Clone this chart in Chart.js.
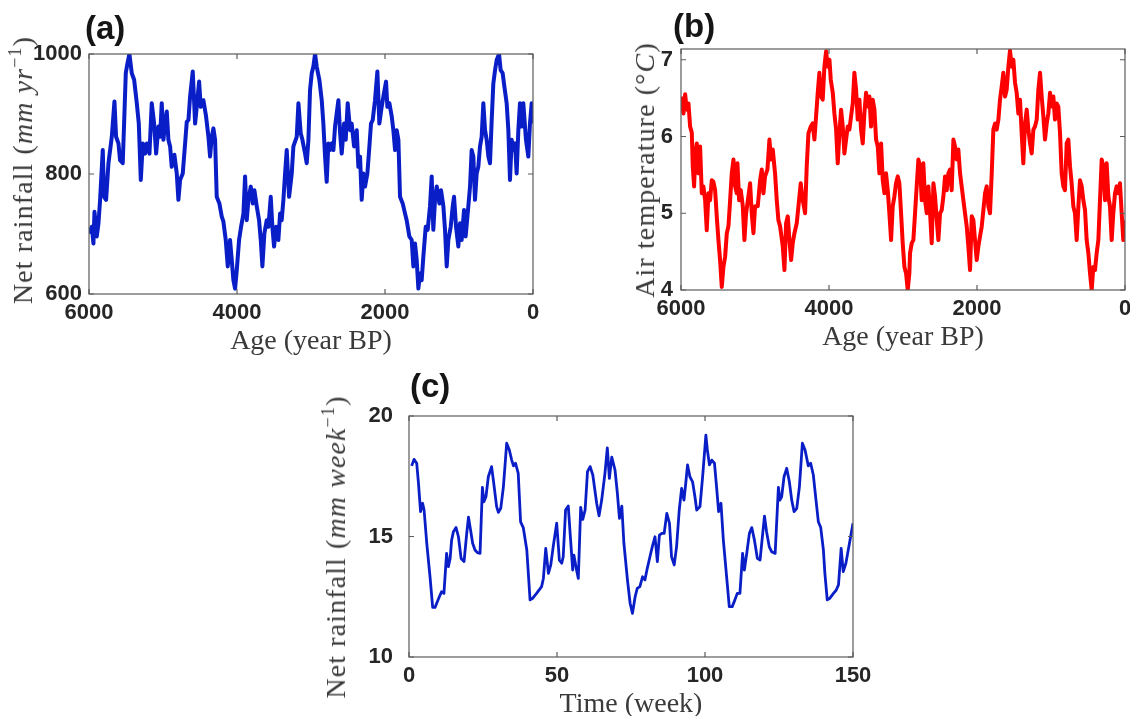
<!DOCTYPE html>
<html lang="en">
  <head>
    <meta charset="UTF-8" />
    <title>Rainfall and temperature series</title>
    <script src="https://cdn.jsdelivr.net/npm/chart.js"></script>
    <style>
      body { margin: 0; width: 1130px; height: 716px; overflow: hidden; background: #fff; position: relative; }
      canvas { position: absolute; left: 0; top: 0; }
      .plabel { position: absolute; font: bold 33px "Liberation Sans", Arial, sans-serif; color: #151515; line-height: 1; }
      .ytitle {
        position: absolute; white-space: nowrap; line-height: 1; letter-spacing: 1.1px;
        transform: translate(-50%, -50%) rotate(-90deg);
        font-family: "Liberation Serif", serif; font-size: 28px; color: #3a3a3a;
      }
      .ytitle sup { font-size: 0.65em; line-height: 0; vertical-align: 0.6em; }
    </style>
  </head>
  <body>
    <canvas id="chartA" width="1200" height="716"></canvas>
    <canvas id="chartB" width="1200" height="716"></canvas>
    <canvas id="chartC" width="1200" height="716"></canvas>

    <div class="plabel" style="left: 85px; top: 11px">(a)</div>
    <div class="plabel" style="left: 673px; top: 9px">(b)</div>
    <div class="plabel" style="left: 410px; top: 369px">(c)</div>

    <div class="ytitle" style="left: 23px; top: 170px">Net rainfall (<i>mm yr</i><sup>−1</sup>)</div>
    <div class="ytitle" style="left: 645px; top: 170px">Air temperature (°<i>C</i>)</div>
    <div class="ytitle" style="left: 336px; top: 547px">Net rainfall (<i>mm week</i><sup>−1</sup>)</div>

    <script>
      // (a) net rainfall, mm/yr, against age in years BP
      const ageA = [
        6000, 5962, 5940, 5926, 5895, 5872, 5850, 5814, 5796, 5769, 5737, 5692, 5656, 5634, 5602, 5580,
        5544, 5521, 5503, 5481, 5454, 5422, 5390, 5354, 5327, 5300, 5273, 5242, 5219, 5183, 5152, 5120,
        5093, 5062, 5039, 5017, 4994, 4972, 4949, 4927, 4904, 4882, 4846, 4814, 4792, 4769, 4733, 4701,
        4679, 4656, 4634, 4598, 4566, 4544, 4512, 4490, 4454, 4418, 4386, 4364, 4341, 4319, 4296, 4274,
        4238, 4206, 4184, 4152, 4125, 4094, 4071, 4049, 4026, 4003, 3972, 3945, 3913, 3891, 3868, 3846,
        3814, 3787, 3765, 3733, 3702, 3679, 3657, 3630, 3598, 3576, 3544, 3522, 3499, 3472, 3441, 3418,
        3396, 3373, 3350, 3328, 3296, 3260, 3238, 3193, 3170, 3139, 3116, 3080, 3058, 3035, 3013, 2990,
        2968, 2945, 2923, 2887, 2855, 2833, 2810, 2788, 2765, 2743, 2720, 2697, 2675, 2630, 2607, 2585,
        2553, 2531, 2504, 2472, 2450, 2418, 2382, 2360, 2337, 2315, 2292, 2270, 2238, 2211, 2189, 2166,
        2135, 2103, 2076, 2045, 2022, 1986, 1968, 1941, 1909, 1887, 1864, 1842, 1819, 1797, 1761, 1729,
        1707, 1671, 1639, 1617, 1594, 1572, 1549, 1527, 1504, 1482, 1450, 1423, 1392, 1369, 1347, 1324,
        1301, 1265, 1243, 1211, 1189, 1166, 1144, 1112, 1085, 1067, 1040, 1009, 986, 964, 932, 910,
        874, 851, 829, 806, 784, 761, 739, 716, 694, 671, 648, 626, 603, 581, 558, 536,
        513, 491, 459, 437, 410, 387, 356, 333, 311, 288, 266, 243, 221, 198, 176, 153,
        131, 95, 63, 41, 18, 0
      ];
      const rainA = [
        701, 712, 684, 737, 696, 718, 757, 840, 762, 757, 818, 862, 921, 862, 851, 823,
        818, 901, 968, 984, 1000, 968, 957, 918, 884, 790, 851, 834, 851, 834, 918, 884,
        834, 879, 862, 918, 857, 884, 904, 857, 846, 812, 832, 801, 757, 790, 801, 851,
        887, 890, 929, 971, 884, 912, 954, 912, 923, 896, 862, 829, 862, 876, 857, 762,
        751, 729, 721, 690, 646, 690, 657, 623, 609, 640, 690, 712, 734, 796, 723, 757,
        779, 751, 773, 746, 723, 690, 646, 701, 723, 712, 762, 712, 679, 712, 690, 734,
        723, 757, 801, 840, 762, 801, 846, 862, 918, 868, 857, 834, 818, 857, 940, 968,
        979, 1000, 979, 957, 923, 884, 829, 787, 851, 840, 851, 840, 879, 923, 868, 834,
        884, 857, 918, 873, 884, 846, 873, 812, 829, 757, 801, 779, 801, 846, 884, 890,
        923, 971, 884, 912, 929, 954, 912, 918, 896, 873, 840, 873, 857, 762, 751, 734,
        723, 696, 690, 646, 684, 657, 609, 634, 623, 662, 712, 707, 746, 796, 707, 757,
        779, 751, 773, 746, 707, 646, 690, 712, 746, 762, 712, 679, 718, 690, 740, 696,
        746, 779, 840, 829, 757, 801, 812, 846, 862, 918, 873, 857, 829, 818, 890, 951,
        973, 990, 1000, 973, 968, 946, 918, 873, 790, 857, 840, 851, 801, 873, 918, 879,
        918, 857, 829, 884, 918, 884
      ];

      // (b) air temperature, °C, against age in years BP
      const ageB = [
        6000, 5967, 5944, 5922, 5899, 5877, 5854, 5841, 5823, 5805, 5787, 5764, 5742, 5719, 5697, 5674,
        5652, 5629, 5607, 5584, 5562, 5539, 5517, 5494, 5472, 5449, 5427, 5404, 5381, 5359, 5336, 5314,
        5291, 5269, 5246, 5237, 5215, 5192, 5165, 5143, 5120, 5089, 5066, 5044, 5021, 4999, 4963, 4931,
        4909, 4886, 4864, 4832, 4805, 4783, 4760, 4729, 4706, 4684, 4661, 4625, 4602, 4580, 4557, 4535,
        4512, 4490, 4467, 4436, 4413, 4382, 4355, 4323, 4301, 4278, 4247, 4220, 4197, 4175, 4152, 4130,
        4107, 4085, 4062, 4039, 4017, 3994, 3976, 3949, 3927, 3904, 3882, 3859, 3837, 3814, 3792, 3769,
        3747, 3724, 3702, 3679, 3657, 3634, 3612, 3589, 3567, 3544, 3522, 3499, 3477, 3454, 3432, 3409,
        3386, 3364, 3341, 3319, 3296, 3274, 3251, 3229, 3206, 3184, 3161, 3139, 3116, 3094, 3071, 3049,
        3026, 3004, 2981, 2959, 2936, 2914, 2905, 2882, 2860, 2837, 2815, 2792, 2770, 2747, 2725, 2702,
        2679, 2657, 2634, 2612, 2589, 2567, 2544, 2522, 2499, 2477, 2454, 2432, 2409, 2387, 2364, 2342,
        2319, 2297, 2274, 2252, 2229, 2207, 2184, 2162, 2139, 2117, 2094, 2071, 2049, 2027, 2004, 1981,
        1959, 1936, 1914, 1891, 1869, 1846, 1824, 1801, 1779, 1756, 1734, 1711, 1689, 1666, 1644, 1621,
        1599, 1576, 1554, 1531, 1509, 1486, 1464, 1441, 1419, 1396, 1374, 1351, 1328, 1306, 1283, 1261,
        1238, 1216, 1193, 1171, 1148, 1126, 1103, 1081, 1058, 1036, 1013, 991, 968, 946, 923, 901,
        878, 856, 833, 811, 788, 766, 743, 721, 698, 676, 653, 630, 608, 585, 563, 540,
        518, 495, 473, 450, 428, 405, 383, 360, 338, 315, 293, 270, 248, 225, 203, 180,
        158, 135, 113, 90, 68, 45, 23, 0
      ];
      const tempB = [
        6.52, 6.30, 6.55, 6.35, 6.43, 6.13, 6.05, 5.61, 5.35, 5.78, 5.91, 5.52, 5.87, 5.26, 5.35, 5.17,
        4.78, 5.26, 5.17, 5.43, 5.41, 5.30, 4.96, 4.65, 4.39, 4.04, 4.30, 4.43, 4.74, 4.83, 5.17, 5.52,
        5.70, 5.35, 5.26, 5.65, 5.17, 5.30, 5.09, 4.65, 5.00, 5.22, 5.39, 5.00, 4.74, 5.09, 5.09, 5.43,
        5.57, 5.26, 5.48, 5.57, 5.96, 5.70, 5.83, 5.52, 5.17, 4.91, 4.83, 4.57, 4.26, 4.87, 4.96, 4.65,
        4.39, 4.61, 4.74, 4.87, 5.09, 5.39, 5.17, 5.00, 5.61, 6.04, 6.13, 6.17, 5.96, 6.26, 6.57, 6.83,
        6.52, 6.48, 6.91, 7.11, 6.91, 7.00, 6.74, 6.57, 6.30, 6.09, 5.65, 6.04, 6.35, 6.13, 5.78, 5.96,
        6.13, 6.09, 6.26, 6.43, 6.83, 6.61, 6.22, 6.48, 6.09, 5.91, 6.30, 6.57, 6.39, 6.52, 6.13, 6.48,
        6.35, 5.96, 5.87, 5.52, 5.91, 5.43, 5.26, 5.52, 5.30, 5.00, 4.65, 5.09, 5.22, 5.39, 5.48, 5.39,
        5.00, 4.61, 4.30, 4.22, 4.00, 4.22, 4.48, 4.61, 4.65, 5.00, 5.35, 5.70, 5.61, 5.17, 5.65, 5.17,
        5.00, 5.35, 5.00, 4.61, 5.39, 5.22, 4.91, 4.65, 5.00, 5.04, 5.22, 5.48, 5.30, 5.52, 5.57, 5.30,
        5.96, 5.87, 5.70, 5.83, 5.52, 5.35, 5.17, 5.00, 4.83, 4.57, 4.26, 4.96, 4.91, 4.65, 4.39, 4.57,
        4.70, 4.83, 5.04, 5.26, 5.35, 5.09, 5.00, 5.52, 6.09, 6.17, 6.09, 6.22, 6.48, 6.65, 6.83, 6.52,
        6.61, 6.91, 7.12, 6.91, 7.00, 6.70, 6.57, 6.30, 6.48, 6.04, 5.65, 6.17, 6.35, 6.09, 5.91, 5.78,
        6.09, 6.13, 6.22, 6.61, 6.83, 6.52, 6.26, 5.96, 6.17, 6.30, 6.57, 6.39, 6.52, 6.22, 6.43, 6.39,
        6.04, 5.52, 5.35, 5.30, 5.91, 5.96, 5.61, 5.39, 5.09, 5.00, 4.65, 5.09, 5.43, 5.35, 5.17, 5.04,
        4.65, 4.48, 4.22, 4.00, 4.30, 4.26, 4.48, 4.65, 5.17, 5.70, 5.61, 5.17, 5.65, 5.22, 5.09, 4.65,
        5.00, 5.26, 5.35, 5.26, 5.39, 5.00, 4.65, 4.91
      ];

      // (c) net rainfall, mm/week, against time in weeks
      const weekC = [
        0.9, 1.7, 2.6, 3.2, 3.9, 4.6, 5.1, 6.0, 7.1, 8.0, 8.8, 9.6, 10.5, 11.0, 11.8, 12.7,
        13.3, 13.9, 14.4, 15.0, 15.9, 16.7, 17.6, 18.6, 19.5, 20.1, 20.8, 21.5, 22.3, 23.1, 24.0, 24.8,
        25.3, 26.0, 26.8, 27.9, 28.5, 29.6, 30.2, 31.0, 31.9, 33.0, 33.9, 34.7, 35.3, 36.0, 36.9, 37.7,
        38.6, 39.8, 40.9, 41.8, 43.1, 44.8, 45.4, 46.2, 47.1, 47.9, 48.8, 49.9, 50.8, 51.6, 52.1, 52.9,
        53.8, 54.6, 55.3, 55.7, 56.6, 57.2, 58.0, 58.7, 59.5, 60.3, 61.2, 62.1, 63.4, 64.2, 65.1, 66.2,
        67.0, 67.7, 68.5, 69.6, 70.4, 71.1, 71.9, 72.6, 73.8, 74.7, 75.5, 76.4, 77.1, 78.0, 78.9, 79.7,
        80.5, 81.4, 82.2, 83.1, 83.9, 84.6, 85.4, 86.2, 87.1, 88.0, 88.7, 89.6, 90.4, 91.3, 92.1, 92.9,
        93.5, 94.1, 94.9, 95.8, 96.6, 97.2, 98.3, 99.2, 100.3, 100.8, 101.5, 102.3, 103.2, 103.9, 104.6, 105.4,
        106.2, 107.3, 108.2, 109.2, 110.1, 110.9, 111.8, 112.7, 113.3, 114.1, 115.0, 115.8, 116.7, 117.7, 118.6, 119.5,
        120.1, 120.8, 121.7, 122.5, 123.7, 124.8, 125.3, 125.9, 126.7, 127.6, 128.5, 129.3, 130.1, 131.0, 131.9, 132.9,
        133.8, 134.9, 135.7, 136.6, 137.5, 138.3, 139.1, 140.0, 140.5, 141.3, 142.2, 143.4, 144.3, 145.1, 146.0, 146.7,
        147.6, 149.0, 150.0
      ];
      const rainC = [
        17.93, 18.20, 18.04, 17.21, 16.03, 16.38, 16.10, 14.72, 13.33, 12.06, 12.06, 12.30, 12.57, 12.71, 12.64, 14.30,
        13.75, 14.09, 14.85, 15.20, 15.37, 14.99, 14.09, 13.96, 15.13, 15.80, 15.27, 14.72, 14.44, 14.33, 14.30, 17.04,
        16.44, 16.65, 17.48, 17.90, 17.34, 16.24, 16.00, 16.17, 17.07, 18.87, 18.59, 18.17, 17.93, 18.04, 17.62, 15.61,
        15.37, 14.44, 12.37, 12.44, 12.64, 12.92, 13.26, 14.51, 13.47, 13.82, 14.65, 15.55, 14.02, 13.89, 14.16, 16.10,
        16.27, 14.85, 13.61, 14.23, 13.61, 13.26, 16.21, 15.71, 16.10, 17.69, 17.90, 17.55, 16.38, 15.86, 16.51, 17.62,
        18.68, 17.41, 18.29, 17.76, 16.79, 15.75, 16.26, 14.72, 13.20, 12.23, 11.81, 12.50, 12.85, 12.92, 13.33, 13.20,
        13.68, 14.16, 14.58, 14.99, 13.96, 15.06, 15.13, 15.13, 15.96, 15.55, 14.16, 13.82, 14.58, 16.10, 17.00, 16.51,
        17.21, 17.97, 17.48, 17.27, 16.65, 16.10, 16.24, 17.48, 19.21, 18.59, 17.97, 18.17, 18.04, 17.07, 16.03, 16.38,
        14.85, 13.33, 12.09, 12.09, 12.37, 12.64, 12.64, 14.30, 13.61, 14.30, 15.13, 15.37, 14.85, 14.09, 14.02, 15.13,
        15.84, 15.20, 14.58, 14.37, 14.30, 17.04, 16.51, 16.65, 17.48, 17.83, 17.27, 16.51, 16.03, 16.17, 17.07, 18.87,
        18.59, 17.93, 18.04, 17.55, 16.51, 15.61, 15.37, 14.44, 13.47, 12.37, 12.44, 12.64, 12.77, 12.99, 14.51, 13.54,
        13.89, 14.85, 15.55
      ];

      Chart.defaults.font.family = '"Liberation Sans", Arial, sans-serif';
      Chart.defaults.color = "#262626";

      // box around the plot area with short inward tick marks on all sides
      const frame = {
        id: "frame",
        afterDatasetsDraw(chart) {
          const { ctx, chartArea: a, scales } = chart;
          ctx.save();
          ctx.strokeStyle = "#5c5c5c";
          ctx.lineWidth = 1.2;
          ctx.strokeRect(a.left, a.top, a.right - a.left, a.bottom - a.top);
          ctx.beginPath();
          scales.x.ticks.forEach((t) => {
            const px = scales.x.getPixelForValue(t.value);
            ctx.moveTo(px, a.bottom); ctx.lineTo(px, a.bottom - 5);
            ctx.moveTo(px, a.top); ctx.lineTo(px, a.top + 5);
          });
          scales.y.ticks.forEach((t) => {
            const py = scales.y.getPixelForValue(t.value);
            ctx.moveTo(a.left, py); ctx.lineTo(a.left + 5, py);
            ctx.moveTo(a.right, py); ctx.lineTo(a.right - 5, py);
          });
          ctx.stroke();
          ctx.restore();
        },
      };

      const tickFont = { size: 22, weight: "bold" };
      const titleFont = { family: '"Liberation Serif", serif', size: 28 };
      const plain = (v) => String(v);
      const noGrid = { display: false, drawTicks: false };

      function makeChart(id, box, xs, ys, color, width, xOpts, yOpts, xTitle) {
        const W = 1200, H = 716, ySide = 60, xSide = 64;
        new Chart(document.getElementById(id), {
          type: "line",
          data: {
            datasets: [{
              data: xs.map((x, i) => ({ x, y: ys[i] })),
              borderColor: color,
              borderWidth: width,
              pointRadius: 0,
              borderJoinStyle: "round",
              tension: 0,
            }],
          },
          options: {
            responsive: false,
            animation: false,
            events: [],
            layout: {
              padding: {
                left: box.left - ySide,
                right: W - box.right,
                top: box.top,
                bottom: H - box.bottom - xSide,
              },
            },
            plugins: { legend: { display: false }, tooltip: { enabled: false } },
            scales: {
              x: Object.assign({
                type: "linear",
                grid: noGrid,
                border: { display: false },
                title: { display: true, text: xTitle, font: titleFont, color: "#3a3a3a", padding: 0 },
                afterFit: (s) => { s.height = xSide; },
              }, xOpts),
              y: Object.assign({
                type: "linear",
                grid: noGrid,
                border: { display: false },
                afterFit: (s) => { s.width = ySide; },
              }, yOpts),
            },
          },
          plugins: [frame],
        });
      }

      makeChart("chartA", { left: 89, right: 533, top: 54, bottom: 294 }, ageA, rainA, "#0a1ec8", 4,
        { min: 0, max: 6000, reverse: true,
          ticks: { stepSize: 2000, padding: 6, font: tickFont, maxRotation: 0, callback: plain } },
        { min: 600, max: 1000,
          ticks: { stepSize: 200, padding: 7, font: tickFont, callback: plain } },
        "Age (year BP)");

      makeChart("chartB", { left: 681, right: 1125, top: 49, bottom: 290 }, ageB, tempB, "#ff0000", 4,
        { min: 0, max: 6000, reverse: true,
          ticks: { stepSize: 2000, padding: 6, font: tickFont, maxRotation: 0, callback: plain } },
        { min: 4, max: 7.14,
          ticks: { stepSize: 1, includeBounds: false, padding: 8, font: tickFont, callback: plain } },
        "Age (year BP)");

      makeChart("chartC", { left: 409, right: 853, top: 416, bottom: 657 }, weekC, rainC, "#0a1ec8", 2.8,
        { min: 0, max: 150,
          ticks: { stepSize: 50, padding: 6, font: tickFont, maxRotation: 0, callback: plain } },
        { min: 10, max: 20,
          ticks: { stepSize: 5, padding: 16, font: tickFont, callback: plain } },
        "Time (week)");
    </script>
  </body>
</html>
